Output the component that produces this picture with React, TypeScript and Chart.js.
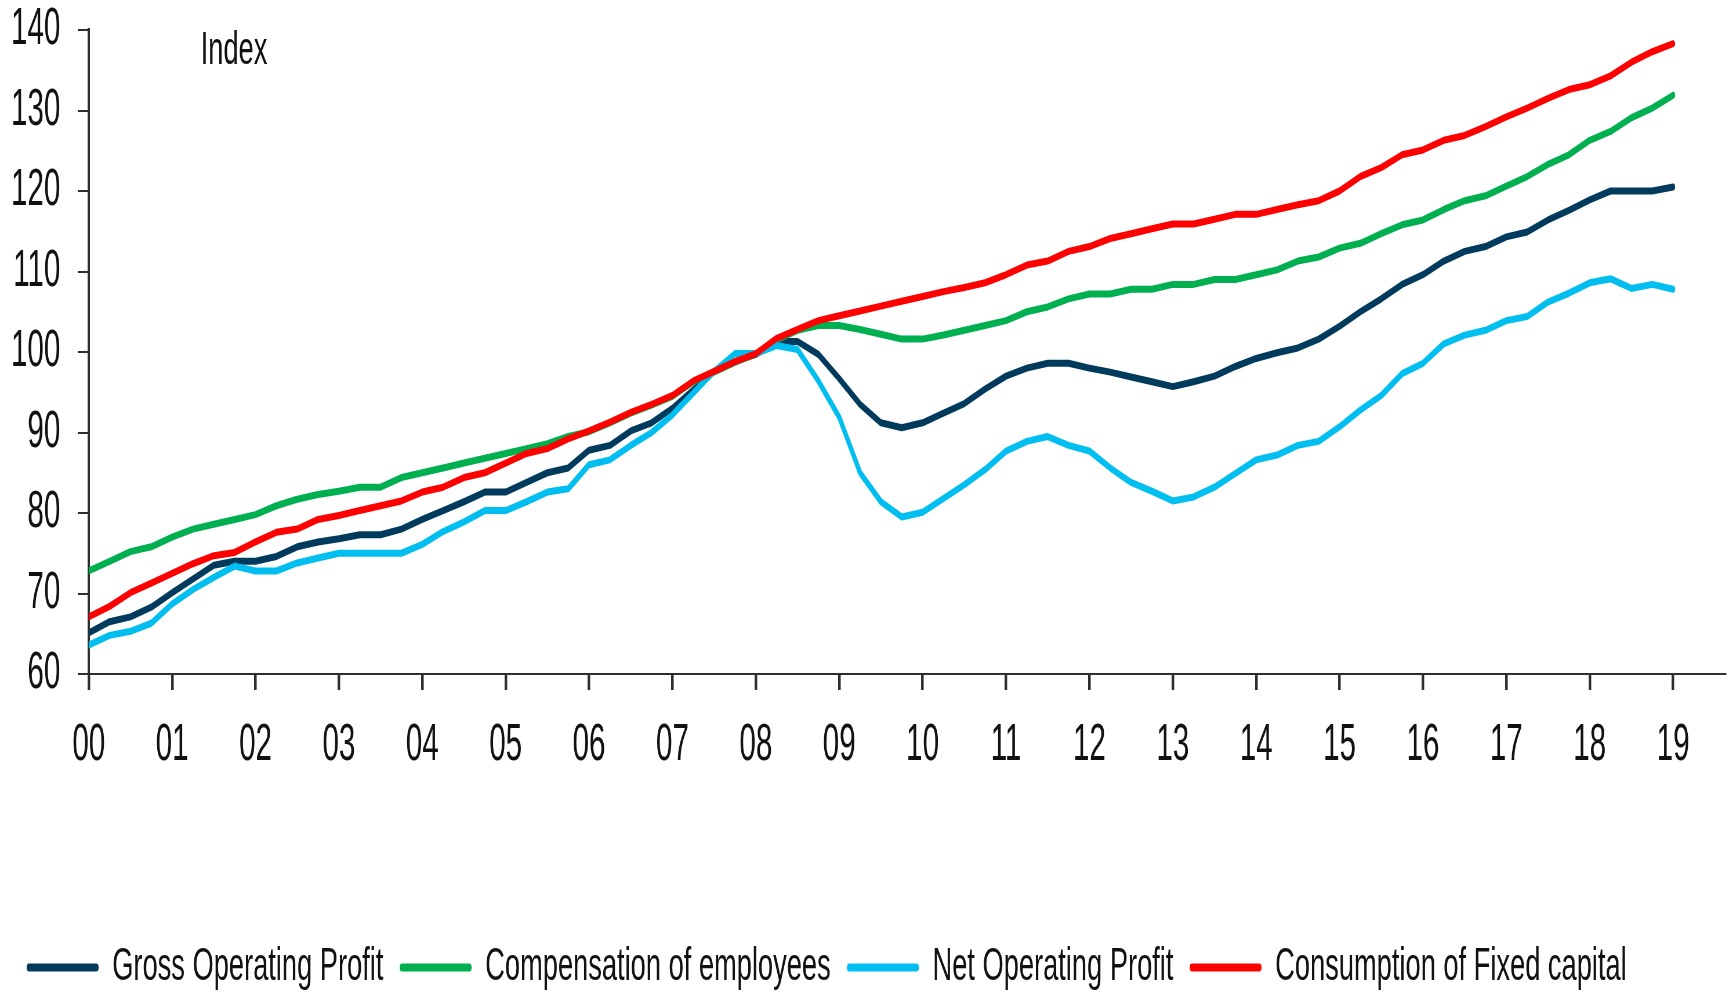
import React, { useEffect, useRef } from "react";
import { Chart, registerables } from "chart.js";

Chart.register(...registerables);

// ---- Data (quarterly, 2000Q1 .. 2019Q1) ----
const yearLabels = ["00","01","02","03","04","05","06","07","08","09","10","11","12","13","14","15","16","17","18","19"];

const seriesNames = [
  "Gross Operating Profit",
  "Compensation of employees",
  "Net Operating Profit",
  "Consumption of Fixed capital",
];

const grossOperatingProfit = [
  65.1, 66.5, 67.1, 68.3,
  70.1, 71.8, 73.5, 74.0,
  74.0, 74.6, 75.8, 76.4,
  76.8, 77.3, 77.3, 78.0,
  79.2, 80.3, 81.4, 82.6,
  82.6, 83.8, 85.0, 85.6,
  87.8, 88.4, 90.2, 91.2,
  93.0, 95.3, 97.6, 98.8,
  99.7, 101.3, 101.3, 99.7,
  96.7, 93.5, 91.2, 90.6,
  91.2, 92.4, 93.6, 95.4,
  97.0, 98.0, 98.6, 98.6,
  98.0, 97.5, 96.9, 96.3,
  95.7, 96.3, 97.0, 98.2,
  99.2, 99.9, 100.5, 101.6,
  103.2, 105.0, 106.6, 108.4,
  109.6, 111.3, 112.5, 113.1,
  114.3, 114.9, 116.4, 117.6,
  118.9, 120.0, 120.0, 120.0,
  120.5,
];

const compensationOfEmployees = [
  72.8, 74.0, 75.2, 75.8,
  77.0, 78.0, 78.6, 79.2,
  79.8, 80.9, 81.7, 82.3,
  82.7, 83.2, 83.2, 84.4,
  85.0, 85.6, 86.2, 86.8,
  87.4, 88.0, 88.6, 89.5,
  90.1, 91.2, 92.4, 93.4,
  94.5, 96.3, 97.5, 98.7,
  99.8, 101.5, 102.7, 103.3,
  103.3, 102.8, 102.2, 101.6,
  101.6, 102.1, 102.7, 103.3,
  103.9, 105.0, 105.6, 106.6,
  107.2, 107.2, 107.8, 107.8,
  108.4, 108.4, 109.0, 109.0,
  109.6, 110.2, 111.3, 111.8,
  112.9, 113.5, 114.7, 115.8,
  116.4, 117.7, 118.8, 119.4,
  120.6, 121.8, 123.3, 124.5,
  126.3, 127.4, 129.1, 130.3,
  131.9,
];

const netOperatingProfit = [
  63.6, 64.8, 65.3, 66.3,
  68.7, 70.5, 72.0, 73.4,
  72.8, 72.8, 73.8, 74.4,
  75.0, 75.0, 75.0, 75.0,
  76.1, 77.7, 78.9, 80.3,
  80.3, 81.4, 82.6, 83.0,
  86.0, 86.6, 88.4, 90.0,
  92.2, 94.9, 97.6, 99.8,
  99.8, 100.8, 100.3, 96.4,
  91.9, 85.0, 81.4, 79.5,
  80.1, 81.8, 83.5, 85.4,
  87.7, 88.9, 89.5, 88.4,
  87.7, 85.6, 83.8, 82.7,
  81.5, 82.0, 83.2, 84.9,
  86.6, 87.2, 88.4, 88.9,
  90.7, 92.8, 94.6, 97.3,
  98.6, 101.0, 102.1, 102.7,
  103.9, 104.4, 106.2, 107.3,
  108.6, 109.1, 107.9, 108.4,
  107.8,
];

const consumptionOfFixedCapital = [
  67.1, 68.4, 70.1, 71.3,
  72.5, 73.7, 74.7, 75.1,
  76.4, 77.6, 78.0, 79.2,
  79.7, 80.3, 80.9, 81.5,
  82.6, 83.2, 84.4, 85.0,
  86.2, 87.4, 88.0, 89.2,
  90.2, 91.3, 92.5, 93.5,
  94.6, 96.4, 97.6, 98.8,
  99.8, 101.7, 102.8, 103.9,
  104.5, 105.1, 105.7, 106.3,
  106.9, 107.5, 108.0, 108.6,
  109.6, 110.8, 111.3, 112.5,
  113.1, 114.1, 114.7, 115.3,
  115.9, 115.9, 116.5, 117.1,
  117.1, 117.7, 118.3, 118.8,
  120.0, 121.8, 122.9, 124.5,
  125.1, 126.3, 126.9, 128.0,
  129.2, 130.3, 131.5, 132.6,
  133.2, 134.3, 136.0, 137.3,
  138.3,
];

const indexLabel = "Index";

// ---- Styling ----
const NAVY = "#003A5C";
const GREEN = "#00B050";
const LIGHT_BLUE = "#00BFF0";
const RED = "#FF0000";
const AXIS = "#2e2e2e";
const TEXT = "#111111";

const PAGE_W = 1727;
const PAGE_H = 995;
const SQUEEZE = 0.58; // the reference is horizontally condensed
const INNER_W = Math.round(PAGE_W / SQUEEZE);
const PLOT_TOP = 30;
const PLOT_BOTTOM = 674;
const BOTTOM_PAD = -6;
const FONT_FAMILY = "'Liberation Sans', Arial, Helvetica, sans-serif";

const indexLabelPlugin = {
  id: "indexLabel",
  afterDraw(chart: any) {
    const { ctx, chartArea } = chart;
    ctx.save();
    ctx.font = `47px ${FONT_FAMILY}`;
    ctx.fillStyle = TEXT;
    ctx.textBaseline = "alphabetic";
    ctx.textAlign = "left";
    ctx.fillText(indexLabel, chartArea.left + 193, chartArea.top + 34);
    ctx.restore();
  },
};

export default function App() {
  const canvasRef = useRef<HTMLCanvasElement | null>(null);

  useEffect(() => {
    if (!canvasRef.current) return;
    const tickFont = { family: FONT_FAMILY, size: 51 };
    const legendFont = { family: FONT_FAMILY, size: 47 };
    const toPoints = (arr: number[]) => arr.map((y, i) => ({ x: i, y }));
    const mk = (label: string, values: number[], color: string, order: number) => ({
      label,
      data: toPoints(values),
      borderColor: color,
      backgroundColor: color,
      order,
    });

    const chart = new Chart(canvasRef.current, {
      type: "line",
      data: {
        datasets: [
          mk(seriesNames[0], grossOperatingProfit, NAVY, 3),
          mk(seriesNames[1], compensationOfEmployees, GREEN, 2),
          mk(seriesNames[2], netOperatingProfit, LIGHT_BLUE, 1),
          mk(seriesNames[3], consumptionOfFixedCapital, RED, 0),
        ],
      },
      options: {
        animation: false,
        responsive: true,
        maintainAspectRatio: false,
        devicePixelRatio: 1,
        layout: { padding: { top: PLOT_TOP, left: 18, right: 0, bottom: BOTTOM_PAD } },
        elements: {
          point: { radius: 0, hoverRadius: 0 },
          line: {
            borderWidth: 7,
            tension: 0,
            borderCapStyle: "round",
            borderJoinStyle: "round",
          },
        },
        scales: {
          x: {
            type: "linear",
            min: 0,
            max: 78.5,
            afterBuildTicks: (s: any) => {
              s.ticks = yearLabels.map((_, i) => ({ value: i * 4 }));
            },
            afterFit: (s: any) => {
              const legendH = s.chart.legend ? s.chart.legend.height : 0;
              s.height = PAGE_H - BOTTOM_PAD - PLOT_BOTTOM - legendH;
              s.paddingLeft = 0;
              s.paddingRight = 0;
            },
            ticks: {
              font: tickFont,
              color: TEXT,
              padding: 25,
              maxRotation: 0,
              autoSkip: false,
              callback: (v: any) => yearLabels[Math.round(Number(v) / 4)] ?? "",
            },
            grid: {
              drawOnChartArea: false,
              drawTicks: true,
              tickLength: 16,
              color: AXIS,
              lineWidth: 4.5,
            },
            border: { display: true, color: AXIS, width: 2 },
          },
          y: {
            min: 60,
            max: 140,
            afterFit: (s: any) => {
              s.width = 135;
              s.paddingTop = 0;
              s.paddingBottom = 0;
            },
            ticks: { stepSize: 10, font: tickFont, color: TEXT, padding: 30 },
            grid: {
              drawOnChartArea: false,
              drawTicks: true,
              tickLength: 19,
              color: AXIS,
              lineWidth: 2,
            },
            border: { display: true, color: AXIS, width: 4 },
          },
        },
        plugins: {
          tooltip: { enabled: false },
          legend: {
            position: "bottom",
            align: "start",
            labels: {
              font: legendFont,
              color: TEXT,
              boxWidth: 124,
              boxHeight: 8,
              padding: 28,
              useBorderRadius: true,
              borderRadius: 4,
              sort: (a: any, b: any) => a.datasetIndex - b.datasetIndex,
              generateLabels: (c: any) =>
                (Chart.defaults.plugins.legend.labels as any)
                  .generateLabels(c)
                  .map((l: any) => ({ ...l, lineWidth: 0 })),
            },
          },
        },
      } as any,
      plugins: [indexLabelPlugin],
    });

    return () => chart.destroy();
  }, []);

  return (
    <div
      style={{
        position: "fixed",
        left: 0,
        top: 0,
        width: PAGE_W,
        height: PAGE_H,
        overflow: "hidden",
        background: "#ffffff",
      }}
    >
      <div
        style={{
          position: "relative",
          width: INNER_W,
          height: PAGE_H,
          transform: `scaleX(${SQUEEZE})`,
          transformOrigin: "0 0",
        }}
      >
        <canvas ref={canvasRef} />
      </div>
    </div>
  );
}
